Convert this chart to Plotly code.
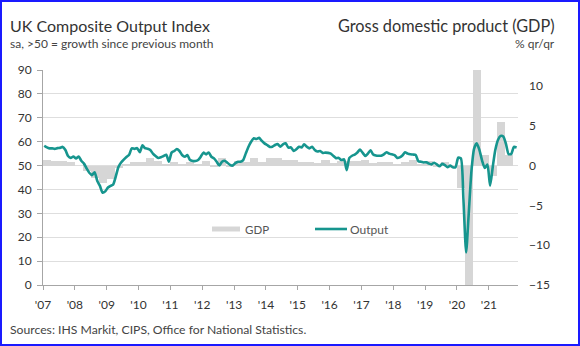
import pandas as pd
import plotly.graph_objects as go

# UK composite output index (PMI), monthly, Jan 2007 - Nov 2021
output_index = [
    # 2007
    58.3, 57.6, 57.2, 57.2, 57.0, 57.3, 57.4, 57.8, 56.5, 54.0, 53.2, 53.8,
    # 2008
    53.0, 53.8, 52.0, 50.8, 48.8, 47.0, 46.0, 47.2, 43.5, 41.5, 38.6, 39.2,
    # 2009
    40.8, 41.5, 42.0, 45.5, 49.4, 51.3, 52.5, 53.6, 54.5, 57.2, 57.0, 57.3,
    # 2010
    55.6, 58.5, 57.3, 57.0, 56.5, 55.0, 54.0, 53.2, 53.5, 54.0, 54.5, 51.6,
    # 2011
    55.4, 56.1, 56.9, 56.1, 54.4, 53.7, 54.4, 52.3, 51.9, 51.9, 52.3, 53.7,
    # 2012
    55.4, 54.7, 55.5, 53.7, 53.0, 51.6, 50.0, 51.6, 52.0, 51.2, 50.3, 50.0,
    # 2013
    51.0, 51.6, 51.6, 52.3, 55.1, 57.9, 60.0, 61.4, 61.1, 61.6, 60.3, 59.3,
    # 2014
    58.6, 57.8, 57.9, 58.6, 59.0, 57.9, 58.9, 59.3, 57.5, 57.6, 56.1, 56.8,
    # 2015
    57.9, 57.6, 58.9, 57.9, 57.2, 57.9, 56.5, 55.9, 56.1, 55.3, 55.4, 55.3,
    # 2016
    55.0, 54.0, 53.1, 53.2, 52.3, 52.6, 48.1, 53.2, 54.1, 54.6, 55.5, 56.7,
    # 2017
    55.3, 54.0, 55.0, 56.4, 54.6, 54.2, 54.1, 54.1, 54.7, 55.6, 55.0, 54.7,
    # 2018
    54.4, 53.2, 53.4, 54.2, 55.6, 55.0, 54.7, 54.6, 54.4, 51.8, 51.6, 51.3,
    # 2019
    51.4, 50.8, 50.5, 51.2, 50.5, 49.7, 50.7, 50.2, 49.3, 50.0, 49.3, 49.3,
    # 2020
    53.3, 53.0, 36.0, 13.6, 30.0, 47.7, 57.0, 59.3, 56.5, 52.1, 49.0, 50.4,
    # 2021
    41.6, 49.6, 56.4, 60.7, 62.4, 62.2, 59.2, 54.8, 54.9, 57.8, 57.6,
]

# UK GDP, % quarter on quarter, 2007 Q1 - 2021 Q3
gdp_qoq = [
    0.7, 0.6, 0.6, 0.4,
    0.0, -0.7, -1.6, -2.2,
    -1.7, -0.3, 0.1, 0.4,
    0.5, 1.0, 0.6, 0.2,
    0.5, 0.2, 0.5, 0.2,
    0.6, -0.2, 1.0, -0.1,
    0.6, 0.5, 0.9, 0.5,
    0.9, 0.9, 0.7, 0.7,
    0.4, 0.5, 0.3, 0.7,
    0.3, 0.6, 0.6, 0.6,
    0.7, 0.3, 0.4, 0.5,
    0.1, 0.4, 0.7, 0.2,
    0.6, -0.1, 0.5, 0.0,
    -2.8, -19.5, 16.9, 1.3,
    -1.3, 5.5, 1.3,
]

years = list(range(2007, 2022))
year_labels = ["'" + str(y)[2:] for y in years]
left_ticks = list(range(0, 91, 10))
right_ticks = [-15, -10, -5, 0, 5, 10]

months = pd.date_range("2007-01-01", periods=len(output_index), freq="MS") + pd.Timedelta(days=14)
quarters = pd.date_range("2007-01-01", periods=len(gdp_qoq), freq="QS") + pd.Timedelta(days=45)

TEAL = "#16958e"
BAR_GREY = "#d6d6d6"
TEXT = "#333333"
SUBTEXT = "#444444"
AXIS = "#a6a6a6"
FONT = "Lato"

W, H = 580, 346
ML, MR, MT, MB = 43, 62, 70, 61
PW, PH = W - ML - MR, H - MT - MB


def px(x):
    return (x - ML) / PW


def py(y):
    return (H - MB - y) / PH


fig = go.Figure()

# Quarterly GDP bars, touching one another
fig.add_trace(go.Bar(
    x=quarters, y=gdp_qoq, yaxis="y",
    width=92 * 24 * 3600 * 1000,
    marker=dict(color=BAR_GREY, line=dict(width=0)),
    name="GDP", showlegend=False,
))

fig.add_trace(go.Scatter(
    x=months, y=output_index, yaxis="y2", mode="lines",
    line=dict(color=TEAL, width=2.6, shape="spline", smoothing=0.6),
    name="Output", showlegend=False,
))

fig.update_layout(
    width=W, height=H,
    margin=dict(l=ML, r=MR, t=MT, b=MB, autoexpand=False),
    paper_bgcolor="white", plot_bgcolor="white",
    font=dict(family=FONT, size=12, color=TEXT),
    bargap=0,
    xaxis=dict(
        type="date",
        range=["2007-01-01", "2021-12-01"],
        tickvals=[f"{y}-01-01" for y in years],
        ticktext=year_labels,
        showgrid=False, zeroline=False,
        showline=True, linecolor=AXIS, linewidth=1,
        ticks="outside", ticklen=4, tickcolor=AXIS,
        tickfont=dict(size=12, color=TEXT),
        ticklabelstandoff=5,
    ),
    yaxis=dict(
        side="right", range=[-15, 12],
        tickvals=right_ticks,
        showgrid=False, zeroline=False, showline=False,
        ticks="", tickfont=dict(size=12, color=TEXT),
        ticklabelstandoff=10,
    ),
    yaxis2=dict(
        overlaying="y", side="left", range=[0, 90],
        tickvals=left_ticks,
        showgrid=True, gridcolor="#dedede", gridwidth=1,
        zeroline=False,
        showline=True, linecolor=AXIS, linewidth=1,
        ticks="outside", ticklen=5, tickcolor=AXIS,
        tickfont=dict(size=12, color=TEXT),
        ticklabelstandoff=3,
    ),
)

# Legend drawn by hand: wide grey swatch for GDP, teal stroke for Output
fig.add_shape(type="rect", xref="paper", yref="paper",
              x0=px(212), x1=px(240), y0=py(231.5), y1=py(226.5),
              fillcolor=BAR_GREY, line=dict(width=0))
fig.add_shape(type="line", xref="paper", yref="paper",
              x0=px(315), x1=px(347), y0=py(229), y1=py(229),
              line=dict(color=TEAL, width=2.6))

annotations = [
    dict(text="GDP", x=px(243), y=py(229), xanchor="left", yanchor="middle",
         font=dict(size=11.5, color="#555555")),
    dict(text="Output", x=px(348), y=py(229), xanchor="left", yanchor="middle",
         font=dict(size=12, color="#555555")),
    dict(text="UK Composite Output Index", x=px(8), y=py(25), xanchor="left", yanchor="middle",
         font=dict(size=16, color=TEXT)),
    dict(text="sa, >50 = growth since previous month", x=px(8), y=py(44), xanchor="left",
         yanchor="middle", font=dict(size=12, color=SUBTEXT)),
    dict(text="Gross domestic product (GDP)", x=px(557), y=py(25), xanchor="right",
         yanchor="middle", font=dict(size=16.3, color=TEXT)),
    dict(text="% qr/qr", x=px(557), y=py(44), xanchor="right", yanchor="middle",
         font=dict(size=12, color=SUBTEXT)),
    dict(text="Sources: IHS Markit, CIPS, Office for National Statistics.", x=px(8), y=py(329),
         xanchor="left", yanchor="middle", font=dict(size=12.2, color=SUBTEXT)),
]
for a in annotations:
    a.update(xref="paper", yref="paper", showarrow=False)
fig.update_layout(annotations=annotations)

# Blue frame round the whole figure
fig.add_shape(type="rect", xref="paper", yref="paper",
              x0=px(1), x1=px(W - 1), y0=py(H - 1), y1=py(1),
              line=dict(color="#1a1aff", width=2), fillcolor="rgba(0,0,0,0)", layer="above")

fig.write_html("out.html")
